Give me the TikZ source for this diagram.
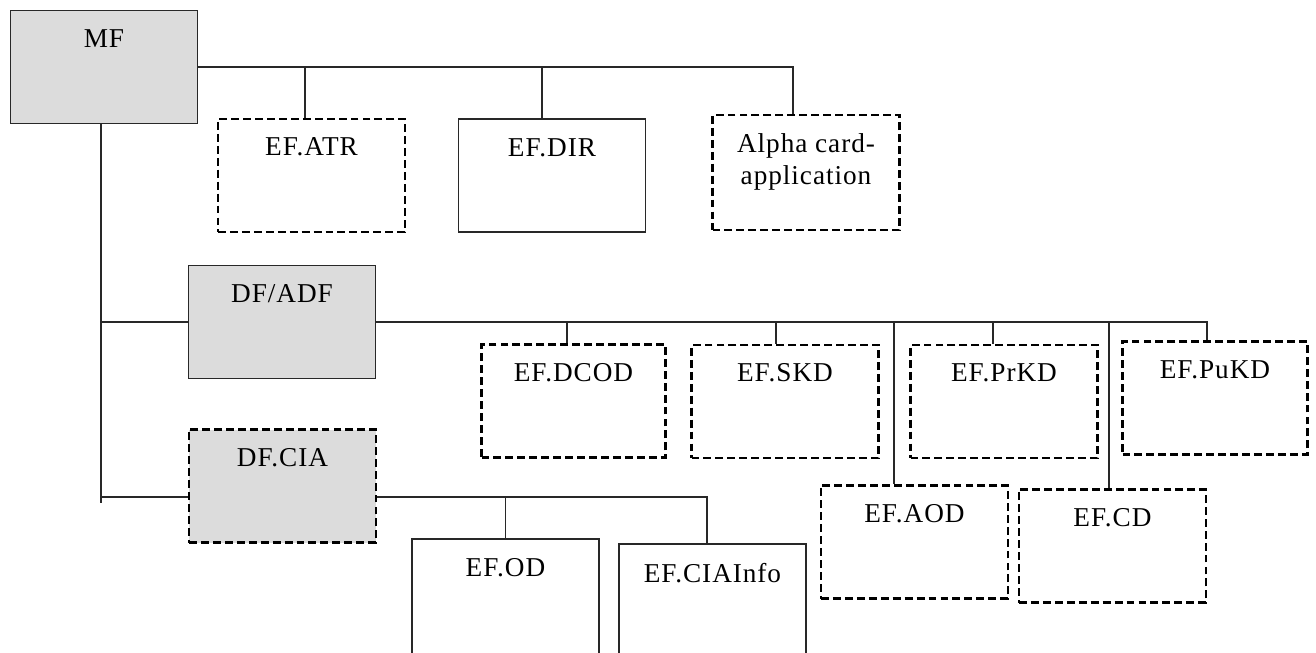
\documentclass[tikz,border=0pt]{standalone}
\usepackage{fontspec}
\setmainfont{Liberation Serif}[LetterSpace=3.5]
\definecolor{dirgray}{RGB}{220,220,220}
\definecolor{inkline}{RGB}{40,40,40}

\tikzset{
  file/.style={rectangle,draw=inkline,line width=1.1pt,fill=white,
    minimum width=3.74cm,minimum height=2.26cm,inner sep=0pt},
  dashfile/.style={file,draw=black,line width=1.6pt,dash pattern=on 4.5pt off 2.3pt},
  dirfile/.style={file,fill=dirgray},
  ftitle/.style={anchor=north,yshift=-0.40cm,inner sep=0pt,align=center,
    font=\fontsize{15.5}{18.2}\selectfont,text=black},
  link/.style={draw=inkline,line width=0.9pt}
}

\begin{document}
\begin{tikzpicture}
\useasboundingbox (0,0) rectangle (26.32,-13.04);
\clip (0,0) rectangle (26.32,-13.04);
% master file and its elementary files
\node[dirfile,label={[ftitle]north:MF}] (MF) at (2.08,-1.34) {};
\node[dashfile,label={[ftitle]north:EF.ATR}] (ATR) at (6.23,-3.51) {};
\node[file,label={[ftitle]north:EF.DIR}] (DIR) at (11.04,-3.51) {};
\node[dashfile,minimum height=2.3cm,label={[ftitle]north:{Alpha card-\\application}}] (Alpha) at (16.12,-3.45) {};
% application directories
\node[dirfile,label={[ftitle]north:DF/ADF}] (ADF) at (5.64,-6.44) {};
\node[dirfile,dashfile,fill=dirgray,label={[ftitle]north:DF.CIA}] (CIA) at (5.65,-9.72) {};
% files below DF/ADF
\node[dashfile,minimum width=3.68cm,label={[ftitle]north:EF.DCOD}] (DCOD) at (11.47,-8.02) {};
\node[dashfile,label={[ftitle]north:EF.SKD}] (SKD) at (15.70,-8.03) {};
\node[dashfile,label={[ftitle]north:EF.PrKD}] (PrKD) at (20.08,-8.03) {};
\node[dashfile,minimum width=3.7cm,label={[ftitle]north:EF.PuKD}] (PuKD) at (24.30,-7.96) {};
\node[dashfile,label={[ftitle]north:EF.AOD}] (AOD) at (18.29,-10.84) {};
\node[dashfile,label={[ftitle]north:EF.CD}] (CD) at (22.25,-10.92) {};
% files below DF.CIA
\node[file,minimum height=2.4cm,label={[ftitle]north:EF.OD}] (OD) at (10.11,-11.98) {};
\node[file,minimum height=2.4cm,label={[ftitle]north:EF.CIAInfo}] (Info) at (14.25,-12.08) {};

% MF bus
\path ([xshift=-0.26cm]Alpha.north) coordinate (dAlpha);
\draw[link] (MF.east) -| (dAlpha);
\foreach \f/\dx in {ATR/-0.13,DIR/-0.20}{
  \path ([xshift=\dx cm]\f.north) coordinate (d\f);
  \draw[link] (d\f) -- (d\f |- MF.east);
}
% trunk
\path ([xshift=-0.06cm]MF.south) coordinate (trunktop);
\coordinate (trunkend) at (2.02,-10.06);
\draw[link] (trunktop) -- (trunkend);
\draw[link] (ADF.west) -- (ADF.west -| trunkend);
\path ([yshift=-0.22cm]CIA.west) coordinate (ciaL);
\draw[link] (ciaL) -- (ciaL -| trunkend);
% DF/ADF bus
\path ([xshift=-0.16cm]PuKD.north) coordinate (dPuKD);
\draw[link] (ADF.east) -| (dPuKD);
\foreach \f/\dx in {DCOD/-0.13,SKD/-0.18,PrKD/-0.22,AOD/-0.41,CD/-0.07}{
  \path ([xshift=\dx cm]\f.north) coordinate (d\f);
  \draw[link] (d\f) -- (d\f |- ADF.east);
}
% DF.CIA bus
\path ([yshift=-0.22cm]CIA.east) coordinate (ciaR);
\path ([xshift=-0.11cm]Info.north) coordinate (dInfo);
\draw[link] (ciaR) -| (dInfo);
\draw[link] (OD.north) -- (OD.north |- ciaR);
\end{tikzpicture}
\end{document}
